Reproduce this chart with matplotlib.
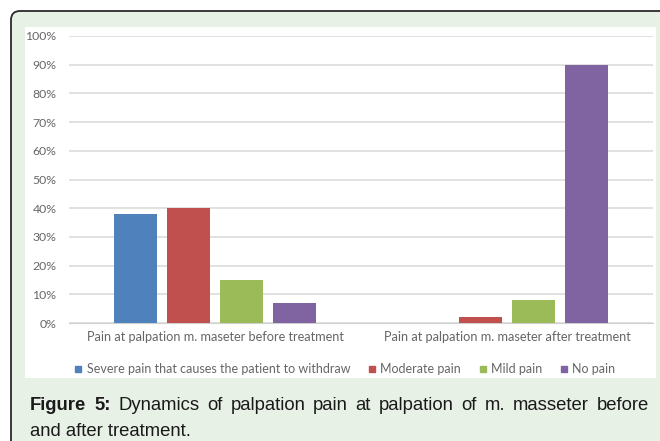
import matplotlib.pyplot as plt
import numpy as np
from matplotlib.patches import FancyBboxPatch, Rectangle
from matplotlib.lines import Line2D

# data
groups = ['Pain at palpation m. maseter before treatment',
          'Pain at palpation m. maseter after treatment']
series = ['Severe pain that causes the patient to withdraw', 'Moderate pain',
          'Mild pain', 'No pain']
severe = [0.38, 0.00]
moderate = [0.40, 0.02]
mild = [0.15, 0.08]
no_pain = [0.07, 0.90]
colors = ['#4f81bd', '#c0504d', '#9bbb59', '#8064a2']

caption_bold = ['Figure', '5:']
caption_words = ['Dynamics', 'of', 'palpation', 'pain', 'at', 'palpation', 'of',
                 'm.', 'masseter', 'before']
caption_line2 = 'and after treatment.'

W, H = 660, 441
fig = plt.figure(figsize=(W / 100, H / 100), dpi=100)

# background in pixel coords
bg = fig.add_axes([0, 0, 1, 1])
bg.set_xlim(0, W)
bg.set_ylim(H, 0)
bg.axis('off')
bg.add_patch(FancyBboxPatch((11, 11), 700, 500,
                            boxstyle='round,pad=0,rounding_size=9',
                            fc='#e8f1e5', ec='#2a2a2a', lw=1.3))
bg.add_patch(Rectangle((25, 27), 631, 351, fc='white', ec='none'))

# chart
ax = fig.add_axes([69 / W, 1 - 323 / H, 584 / W, 287 / H])
ax.set_facecolor('none')
x = np.arange(len(groups))
step, width = 0.1815, 0.144
for i, (vals, c) in enumerate(zip([severe, moderate, mild, no_pain], colors)):
    ax.bar(x + (i - 1.5) * step, vals, width, color=c, label=series[i], zorder=3)

ax.set_xlim(-0.5, 1.5)
ax.set_ylim(0, 1.0)
ax.set_yticks(np.arange(0, 1.01, 0.1))
ax.set_yticklabels([f'{int(round(v * 100))}%' for v in np.arange(0, 1.01, 0.1)])
ax.set_xticks(x)
ax.set_xticklabels(groups)
ax.grid(axis='y', color='#d9d9d9', lw=1.1, zorder=0)
for s in ['top', 'right', 'left']:
    ax.spines[s].set_visible(False)
ax.spines['bottom'].set_color('#d0d0d0')
ax.tick_params(length=0, colors='#666666', labelsize=9.2)
ax.tick_params(axis='y', labelsize=8.8, pad=9)
ax.tick_params(axis='x', pad=6)
for t in ax.get_xticklabels() + ax.get_yticklabels():
    t.set_fontfamily('Lato')

handles = [Line2D([], [], marker='s', ls='none', color=c, markersize=4.5) for c in colors]
leg = fig.legend(handles, series, loc='center', bbox_to_anchor=(345 / W, 1 - 369 / H),
                 ncol=4, frameon=False, handlelength=0.6, handletextpad=0.35,
                 columnspacing=1.45, prop={'family': 'Lato', 'size': 9.0})
for t in leg.get_texts():
    t.set_color('#666666')

# caption, first line justified
fig.canvas.draw()
r = fig.canvas.get_renderer()
cap_fs = 13.3
y1, y2 = 410, 436
items = []
for w in caption_bold:
    items.append(bg.text(0, y1, w, fontsize=cap_fs, fontweight='bold',
                         family='Liberation Sans', color='#1a1a1a'))
for w in caption_words:
    items.append(bg.text(0, y1, w, fontsize=cap_fs, family='Liberation Sans',
                         color='#1a1a1a'))
widths = [t.get_window_extent(r).width for t in items]
left, right = 30, 649
gap = (right - left - sum(widths)) / (len(items) - 1)
pos = left
for t, w in zip(items, widths):
    t.set_x(pos)
    pos += w + gap
bg.text(left, y2, caption_line2, fontsize=cap_fs, family='Liberation Sans',
        color='#1a1a1a')

fig.savefig('out.png', dpi=100)
